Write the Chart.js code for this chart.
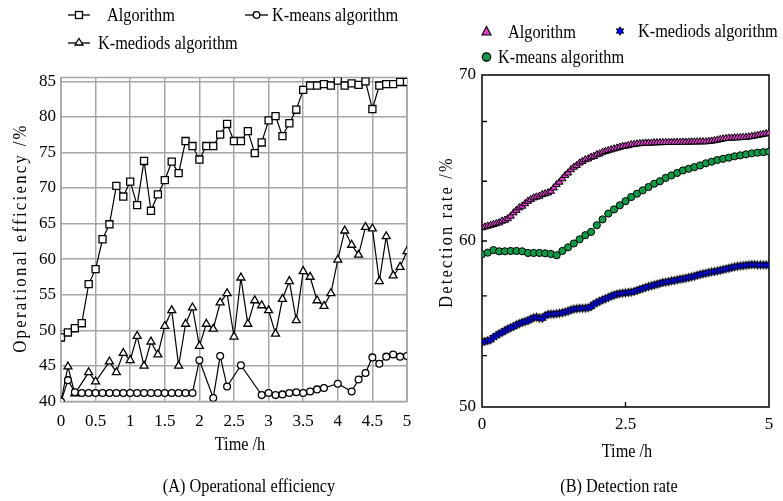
<!DOCTYPE html>
<html>
<head>
<meta charset="utf-8">
<script src="https://cdn.jsdelivr.net/npm/chart.js"></script>
<style>
  body { margin: 0; background: #fff; }
  #wrap { position: relative; width: 783px; height: 501px; overflow: hidden;
          font-family: "Liberation Serif", "Times New Roman", serif; color: #000; }
  canvas { position: absolute; top: 0; }
  svg { position: absolute; left: 0; top: 0; }
  .t { position: absolute; white-space: nowrap; font-size: 18.5px; line-height: 1; }
  .c { transform: translate(-50%, -50%) scaleX(.88); }
  .l { transform-origin: 0 50%; transform: translateY(-50%) scaleX(.88); }
  .v { transform: translate(-50%, -50%) rotate(-90deg) scaleX(.88); }
</style>
</head>
<body>
<div id="wrap">
  <canvas id="chartA" width="430" height="501" style="left:0"></canvas>
  <canvas id="chartB" width="353" height="501" style="left:430px"></canvas>

  <svg width="783" height="501">
    <g stroke="#000" stroke-width="1.3" fill="#fff">
      <line x1="68" y1="15" x2="90" y2="15"/>
      <rect x="75.5" y="11.5" width="7" height="7"/>
      <line x1="245" y1="15" x2="268" y2="15"/>
      <circle cx="256.5" cy="15" r="3.3"/>
      <line x1="68" y1="43" x2="90" y2="43"/>
      <polygon points="79,38.5 83,45 75,45"/>
    </g>
    <polygon points="486.5,26.5 491,35 482,35" fill="#e23dcf" stroke="#000" stroke-width="1.2"/>
    <circle cx="486.5" cy="57" r="4.2" fill="#119a4a" stroke="#000" stroke-width="1.2"/>
    <g transform="translate(620,31)">
      <polygon points="0,-5 4.33,2.5 -4.33,2.5" fill="#000"/>
      <polygon points="0,5 4.33,-2.5 -4.33,-2.5" fill="#000"/>
      <circle r="2.6" fill="#0000ff"/>
    </g>
  </svg>

  <div class="t l" style="left:107px;top:15px">Algorithm</div>
  <div class="t l" style="left:272px;top:15px">K-means algorithm</div>
  <div class="t l" style="left:98px;top:43px">K-mediods algorithm</div>
  <div class="t v" style="left:18.5px;top:238px;font-size:19px;letter-spacing:2.6px">Operational efficiency /%</div>
  <div class="t c" style="left:240px;top:444px">Time /h</div>
  <div class="t c" style="left:249px;top:486px">(A) Operational efficiency</div>

  <div class="t l" style="left:508px;top:32px">Algorithm</div>
  <div class="t l" style="left:638px;top:31px">K-mediods algorithm</div>
  <div class="t l" style="left:498px;top:57px">K-means algorithm</div>
  <div class="t v" style="left:446px;top:232px;letter-spacing:2.5px">Detection rate /%</div>
  <div class="t c" style="left:627px;top:451px">Time /h</div>
  <div class="t c" style="left:619px;top:486px">(B) Detection rate</div>
</div>

<script>
// ---- (A) operational efficiency, sampled every 0.1 h ----
const timeA = [0, 0.1, 0.2, 0.3, 0.4, 0.5, 0.6, 0.7, 0.8, 0.9,
  1, 1.1, 1.2, 1.3, 1.4, 1.5, 1.6, 1.7, 1.8, 1.9,
  2, 2.1, 2.2, 2.3, 2.4, 2.5, 2.6, 2.7, 2.8, 2.9,
  3, 3.1, 3.2, 3.3, 3.4, 3.5, 3.6, 3.7, 3.8, 3.9,
  4, 4.1, 4.2, 4.3, 4.4, 4.5, 4.6, 4.7, 4.8, 4.9, 5];

const algoEff = [49.0, 49.7, 50.3, 51.0, 56.5, 58.6, 62.8, 64.9, 70.3, 68.8,
  70.9, 67.6, 73.8, 66.8, 69.1, 71.1, 73.7, 72.1, 76.6, 75.9,
  74.0, 75.9, 75.9, 77.5, 79.0, 76.6, 76.6, 78.0, 74.9, 76.4,
  79.5, 80.1, 77.3, 79.1, 81.0, 83.8, 84.4, 84.4, 84.6, 84.4,
  85.1, 84.4, 84.7, 84.5, 85.0, 81.1, 84.4, 84.6, 84.6, 84.9, 84.9];

const kmeansEff = [40.0, 43.0, 41.3, 41.2, 41.2, 41.2, 41.2, 41.2, 41.2, 41.2,
  41.2, 41.2, 41.2, 41.2, 41.2, 41.2, 41.2, 41.2, 41.2, 41.2,
  45.8, null, 40.5, 46.4, 42.1, null, 45.1, null, null, 40.9,
  41.2, 40.9, 41.0, 41.2, 41.3, 41.2, 41.4, 41.7, 41.9, null,
  42.5, null, 41.4, 43.1, 44.0, 46.2, 45.3, 46.3, 46.6, 46.3, 46.4];

const kmediodsEff = [40.0, 44.9, 41.1, null, 44.1, 42.8, null, 45.6, 44.1, 46.8,
  45.8, 49.2, 45.0, 48.4, 46.6, 50.6, 52.8, 45.0, 50.9, 53.2,
  47.8, 50.9, 50.2, 53.9, 55.2, 49.1, 57.4, 50.9, 54.2, 53.5,
  52.8, 49.5, 54.4, 56.9, 51.4, 58.3, 57.5, 54.2, 53.4, 55.2,
  59.9, 64.0, 62.0, 60.6, 64.5, 64.3, 56.9, 63.2, 57.7, 58.9, 61.1];

const effTicks = [40, 45, 50, 55, 60, 65, 70, 75, 80, 85];

// ---- (B) detection rate ----
const timeB = [0, 0.05, 0.1, 0.15, 0.2, 0.25, 0.3, 0.35, 0.4, 0.45,
  0.5, 0.55, 0.6, 0.65, 0.7, 0.75, 0.8, 0.85, 0.9, 0.95,
  1, 1.05, 1.1, 1.15, 1.2, 1.25, 1.3, 1.35, 1.4, 1.45,
  1.5, 1.55, 1.6, 1.65, 1.7, 1.75, 1.8, 1.85, 1.9, 1.95,
  2, 2.05, 2.1, 2.15, 2.2, 2.25, 2.3, 2.35, 2.4, 2.45,
  2.5, 2.55, 2.6, 2.65, 2.7, 2.75, 2.8, 2.85, 2.9, 2.95,
  3, 3.05, 3.1, 3.15, 3.2, 3.25, 3.3, 3.35, 3.4, 3.45,
  3.5, 3.55, 3.6, 3.65, 3.7, 3.75, 3.8, 3.85, 3.9, 3.95,
  4, 4.05, 4.1, 4.15, 4.2, 4.25, 4.3, 4.35, 4.4, 4.45,
  4.5, 4.55, 4.6, 4.65, 4.7, 4.75, 4.8, 4.85, 4.9, 4.95, 5];

const algoDet = [60.8, 60.85, 60.9, 60.95, 61.0, 61.05, 61.1, 61.2, 61.25, 61.35,
  61.5, 61.7, 61.85, 62.0, 62.1, 62.25, 62.4, 62.5, 62.6, 62.65,
  62.7, 62.8, 62.85, 62.9, 63.0, 63.2, 63.4, 63.55, 63.75, 63.95,
  64.1, 64.3, 64.45, 64.55, 64.7, 64.8, 64.9, 64.95, 65.05, 65.1,
  65.2, 65.25, 65.35, 65.4, 65.45, 65.5, 65.55, 65.6, 65.65, 65.7,
  65.72, 65.75, 65.8, 65.82, 65.85, 65.87, 65.88, 65.9, 65.9, 65.9,
  65.92, 65.92, 65.93, 65.93, 65.94, 65.94, 65.94, 65.95, 65.95, 65.95,
  65.96, 65.96, 65.96, 65.97, 65.97, 65.97, 65.98, 65.98, 65.98, 66.0,
  66.02, 66.05, 66.08, 66.12, 66.15, 66.18, 66.2, 66.2, 66.22, 66.22,
  66.23, 66.24, 66.25, 66.27, 66.3, 66.33, 66.36, 66.4, 66.43, 66.46, 66.5];

const kmeansDet = [59.2, 59.3, 59.45, 59.38, 59.38, 59.4, 59.4, 59.38, 59.28, 59.28,
  59.28, 59.26, 59.22, 59.14, 59.4, 59.62, 59.85, 60.1, 60.35, 60.55,
  60.95, 61.3, 61.65, 61.9, 62.15, 62.4, 62.65, 62.85, 63.05, 63.25,
  63.45, 63.6, 63.8, 63.95, 64.1, 64.25, 64.35, 64.45, 64.55, 64.68,
  64.78, 64.88, 64.95, 65.02, 65.1, 65.16, 65.22, 65.28, 65.32, 65.35, 65.38];

const kmediodsDet = [53.9, 53.95, 54.0, 54.05, 54.2, 54.3, 54.42, 54.5, 54.6, 54.7,
  54.78, 54.85, 54.95, 55.02, 55.1, 55.15, 55.2, 55.3, 55.38, 55.42,
  55.36, 55.34, 55.5, 55.58, 55.6, 55.6, 55.62, 55.65, 55.68, 55.72,
  55.78, 55.85, 55.9, 55.92, 55.95, 55.95, 55.96, 55.98, 56.05, 56.2,
  56.28, 56.38, 56.45, 56.52, 56.6, 56.68, 56.74, 56.8, 56.84, 56.86,
  56.88, 56.9, 56.92, 56.96, 57.02, 57.08, 57.14, 57.2, 57.26, 57.3,
  57.35, 57.4, 57.45, 57.5, 57.52, 57.55, 57.6, 57.62, 57.66, 57.7,
  57.72, 57.76, 57.8, 57.84, 57.88, 57.94, 57.98, 58.02, 58.06, 58.1,
  58.14, 58.16, 58.2, 58.24, 58.28, 58.32, 58.36, 58.4, 58.44, 58.48,
  58.5, 58.52, 58.54, 58.56, 58.58, 58.58, 58.56, 58.56, 58.56, 58.56, 58.56];

const detTicks = [50, 60, 70];
const detMinorTicks = [53.1, 56.7, 60, 63.6, 67.2];
const timeTicksB = [0, 2.5, 5];

Chart.defaults.font.family = "Liberation Serif";
const pts = (xs, ys) => xs.map((x, i) => ({ x: x, y: ys[i] }));
const plain = (v) => String(v);

// box around the plot area
const frame = (color) => ({
  id: "frame",
  beforeDatasetsDraw(chart) {
    const a = chart.chartArea, ctx = chart.ctx;
    ctx.save();
    ctx.strokeStyle = color;
    ctx.lineWidth = 1.5;
    ctx.strokeRect(a.left, a.top, a.right - a.left, a.bottom - a.top);
    ctx.restore();
  },
});

// short tick marks drawn inward (panel B)
const innerTicks = {
  id: "innerTicks",
  afterDraw(chart) {
    const ctx = chart.ctx, a = chart.chartArea;
    ctx.save();
    ctx.strokeStyle = "#000";
    ctx.lineWidth = 1.3;
    ctx.beginPath();
    detMinorTicks.forEach((v) => {
      const y = chart.scales.y.getPixelForValue(v);
      ctx.moveTo(a.left, y);
      ctx.lineTo(a.left + 5, y);
    });
    const x = chart.scales.x.getPixelForValue(2.5);
    ctx.moveTo(x, a.bottom);
    ctx.lineTo(x, a.bottom - 5);
    ctx.stroke();
    ctx.restore();
  },
};

function hexStar() {
  const c = document.createElement("canvas");
  c.width = 11;
  c.height = 11;
  const g = c.getContext("2d");
  g.fillStyle = "#000";
  [0, Math.PI].forEach((rot) => {
    g.beginPath();
    for (let k = 0; k < 3; k++) {
      const ang = rot - Math.PI / 2 + (k * 2 * Math.PI) / 3;
      g.lineTo(5.5 + 5 * Math.cos(ang), 5.5 + 5 * Math.sin(ang));
    }
    g.closePath();
    g.fill();
  });
  g.fillStyle = "#0000ff";
  g.beginPath();
  g.arc(5.5, 5.5, 2.6, 0, 2 * Math.PI);
  g.fill();
  return c;
}

function draw() {
  const tickFont = { family: "Liberation Serif", size: 17 };

  // Panel A
  new Chart(document.getElementById("chartA"), {
    type: "line",
    data: {
      datasets: [
        {
          label: "Algorithm",
          data: pts(timeA, algoEff),
          pointStyle: "rect",
          pointRadius: 5,
        },
        {
          label: "K-means algorithm",
          data: pts(timeA, kmeansEff),
          pointStyle: "circle",
          pointRadius: 3.4,
        },
        {
          label: "K-mediods algorithm",
          data: pts(timeA, kmediodsEff),
          pointStyle: "triangle",
          pointRadius: 4.6,
        },
      ].map((d) => Object.assign(d, {
        borderColor: "#000",
        backgroundColor: "#fff",
        borderWidth: 1.2,
        pointBorderColor: "#000",
        pointBackgroundColor: "#fff",
        pointBorderWidth: 1.3,
        tension: 0,
        spanGaps: true,
      })),
    },
    options: {
      responsive: false,
      animation: false,
      events: [],
      layout: { padding: { top: 77.5, right: 23, left: 0, bottom: 0 } },
      plugins: { legend: { display: false }, tooltip: { enabled: false } },
      scales: {
        x: {
          type: "linear",
          min: 0,
          max: 5,
          ticks: { stepSize: 0.5, padding: 10, color: "#000", font: tickFont, maxRotation: 0, autoSkip: false, callback: plain },
          grid: { color: "#a6a6a6", lineWidth: 1.5, drawTicks: false },
          border: { display: false },
          afterFit(s) { s.height = 99.5; },
        },
        y: {
          min: 40,
          max: 85.53,
          afterBuildTicks(s) { s.ticks = effTicks.map((v) => ({ value: v })); },
          ticks: { padding: 5, color: "#000", font: tickFont, callback: plain },
          grid: { color: "#a6a6a6", lineWidth: 1.5, drawTicks: false },
          border: { display: false },
          afterFit(s) { s.width = 61; },
        },
      },
    },
    plugins: [frame("#a6a6a6")],
  });

  // Panel B
  new Chart(document.getElementById("chartB"), {
    type: "scatter",
    data: {
      datasets: [
        {
          label: "Algorithm",
          data: pts(timeB, algoDet),
          pointStyle: "triangle",
          pointRadius: 4.2,
          pointBackgroundColor: "#e23dcf",
          pointBorderColor: "#000",
          pointBorderWidth: 1,
        },
        {
          label: "K-mediods algorithm",
          data: pts(timeB, kmediodsDet),
          pointStyle: hexStar(),
          pointBackgroundColor: "#0000ff",
          pointBorderColor: "#000",
        },
        {
          label: "K-means algorithm",
          data: pts(timeA, kmeansDet),
          pointStyle: "circle",
          pointRadius: 3.6,
          pointBackgroundColor: "#119a4a",
          pointBorderColor: "#000",
          pointBorderWidth: 1,
        },
      ],
    },
    options: {
      responsive: false,
      animation: false,
      events: [],
      layout: { padding: { top: 75, right: 14, left: 0, bottom: 0 } },
      plugins: { legend: { display: false }, tooltip: { enabled: false } },
      scales: {
        x: {
          type: "linear",
          min: 0,
          max: 5,
          afterBuildTicks(s) { s.ticks = timeTicksB.map((v) => ({ value: v })); },
          ticks: { padding: 7, color: "#000", font: tickFont, maxRotation: 0, autoSkip: false, callback: plain },
          grid: { display: false, drawTicks: false },
          border: { display: false },
          afterFit(s) { s.height = 94; },
        },
        y: {
          min: 50,
          max: 70,
          afterBuildTicks(s) { s.ticks = detTicks.map((v) => ({ value: v })); },
          ticks: { padding: 6, color: "#000", font: tickFont, callback: plain },
          grid: { display: false, drawTicks: false },
          border: { display: false },
          afterFit(s) { s.width = 52; },
        },
      },
    },
    plugins: [frame("#000"), innerTicks],
  });
}

document.fonts.load('17px "Liberation Serif"').then(draw, draw);
</script>
</body>
</html>
